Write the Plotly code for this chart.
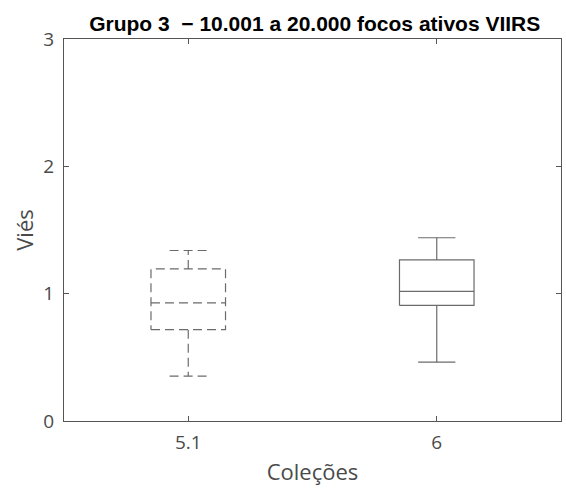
import plotly.graph_objects as go

# Data
categories = ["5.1", "6"]
lower_whisker = [0.352, 0.462]
q1 = [0.717, 0.908]
median = [0.927, 1.018]
q3 = [1.194, 1.265]
upper_whisker = [1.339, 1.439]
y_ticks = [0, 1, 2, 3]

line_dash = ["9px,5px", "solid"]
box_half = 0.15
cap_half = 0.075
line_color = "#6b6b6b"
axis_color = "#555555"
text_color = "#4a4a4a"

fig = go.Figure()
for i, cat in enumerate(categories):
    x0 = i + 1
    xs, ys = [], []
    # box
    xs += [x0 - box_half, x0 + box_half, x0 + box_half, x0 - box_half, x0 - box_half, None]
    ys += [q1[i], q1[i], q3[i], q3[i], q1[i], None]
    # median
    xs += [x0 - box_half, x0 + box_half, None]
    ys += [median[i], median[i], None]
    # whiskers
    xs += [x0, x0, None, x0, x0, None]
    ys += [q3[i], upper_whisker[i], None, q1[i], lower_whisker[i], None]
    # caps
    xs += [x0 - cap_half, x0 + cap_half, None, x0 - cap_half, x0 + cap_half]
    ys += [upper_whisker[i], upper_whisker[i], None, lower_whisker[i], lower_whisker[i]]
    fig.add_trace(go.Scatter(
        x=xs, y=ys, mode="lines", name=cat, showlegend=False,
        line=dict(color=line_color, width=1.2, dash=line_dash[i]),
        hoverinfo="skip",
    ))

fig.update_layout(
    width=566, height=488,
    margin=dict(l=63.5, r=5, t=39, b=67),
    plot_bgcolor="white", paper_bgcolor="white",
    title=dict(
        text="Grupo 3  \u2212 10.001 a 20.000 focos ativos VIIRS",
        font=dict(family="Liberation Sans, Arial", size=21, color="#000000", weight="bold"),
        x=0.556, xanchor="center", y=1 - 31 / 488, yanchor="bottom",
    ),
    font=dict(family="Open Sans", color=text_color),
)
fig.update_xaxes(
    range=[0.5, 2.5], tickvals=[1, 2], ticktext=categories,
    showgrid=False, zeroline=False,
    showline=True, linecolor=axis_color, linewidth=1, mirror="ticks",
    ticks="inside", ticklen=5, tickcolor=axis_color, ticklabelstandoff=4,
    tickfont=dict(size=19, color=text_color),
    title=dict(text="Coleções", font=dict(size=22, color=text_color), standoff=10),
)
fig.update_yaxes(
    range=[0, 3], tickvals=y_ticks,
    showgrid=False, zeroline=False,
    showline=True, linecolor=axis_color, linewidth=1, mirror="ticks",
    ticks="inside", ticklen=5, tickcolor=axis_color, ticklabelstandoff=5,
    tickfont=dict(size=19, color=text_color),
    title=dict(text="Viés", font=dict(size=22, color=text_color), standoff=3),
)

fig.write_html("out.html", config={"displayModeBar": False},
               post_script="document.body.style.margin='0';")
